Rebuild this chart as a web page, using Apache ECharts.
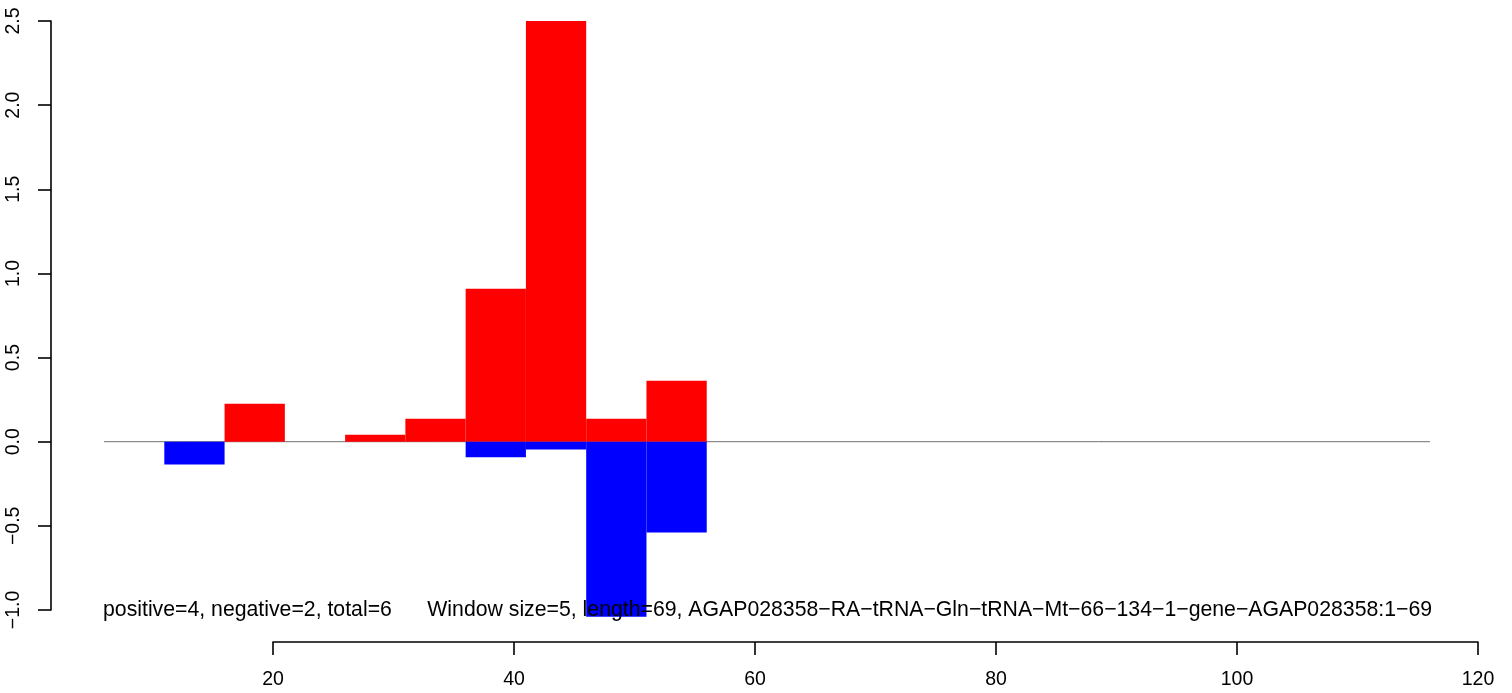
<!DOCTYPE html>
<html>
<head>
<meta charset="utf-8">
<script src="https://cdn.jsdelivr.net/npm/echarts@6/dist/echarts.min.js"></script>
<style>html,body{margin:0;padding:0;background:#fff;}#c{width:1512px;height:693px;}</style>
</head>
<body>
<div id="c"></div>
<script>
// ---- data ----
const windowStarts = [11, 16, 21, 26, 31, 36, 41, 46, 51];
const windowSize = 5;
const positiveValues = [0, 0.225, 0, 0.042, 0.136, 0.909, 2.5, 0.137, 0.362];
const negativeValues = [-0.135, 0, 0, 0, 0, -0.093, -0.047, -1.04, -0.54];
const baselineRange = [6, 116];
const xTicks = [20, 40, 60, 80, 100, 120];
const yTicks = [-1.0, -0.5, 0.0, 0.5, 1.0, 1.5, 2.0, 2.5];
const annotation = 'positive=4, negative=2, total=6      Window size=5, length=69, AGAP028358\u2212RA\u2212tRNA\u2212Gln\u2212tRNA\u2212Mt\u221266\u2212134\u22121\u2212gene\u2212AGAP028358:1\u221269';

const FONT = '"Liberation Sans", Arial, Helvetica, sans-serif';

function rows(vals) {
  return windowStarts.map((s, i) => [s, s + windowSize, vals[i]]).filter(r => r[2] !== 0);
}
function rectRenderer(color) {
  return function (params, api) {
    const p0 = api.coord([api.value(0), 0]);
    const p1 = api.coord([api.value(1), api.value(2)]);
    return {
      type: 'rect',
      shape: { x: p0[0], y: Math.min(p0[1], p1[1]), width: p1[0] - p0[0], height: Math.abs(p1[1] - p0[1]) },
      style: { fill: color }
    };
  };
}

const chart = echarts.init(document.getElementById('c'), null, { renderer: 'canvas' });
chart.setOption({
  animation: false,
  backgroundColor: '#ffffff',
  grid: [
    { left: 51, right: 29, top: 21, bottom: 83, containLabel: false },
    { left: 273, right: 34, top: 600, bottom: 51, containLabel: false }
  ],
  xAxis: [
    { type: 'value', gridIndex: 0, min: 1.6, max: 120.4, show: false },
    {
      type: 'value', gridIndex: 1, min: 20, max: 120, interval: 20, position: 'bottom',
      axisLine: { show: true, lineStyle: { color: '#000', width: 1.6 } },
      axisTick: { show: true, inside: false, length: 13, lineStyle: { color: '#000', width: 1.6 } },
      axisLabel: { show: true, margin: 28, color: '#000', fontSize: 19.5, fontFamily: FONT,
        customValues: xTicks },
      splitLine: { show: false }
    }
  ],
  yAxis: [
    {
      type: 'value', gridIndex: 0, min: -1, max: 2.5, interval: 0.5, position: 'left',
      axisLine: { show: true, lineStyle: { color: '#000', width: 1.6 } },
      axisTick: { show: true, inside: false, length: 13, lineStyle: { color: '#000', width: 1.6 } },
      axisLabel: { show: true, rotate: 90, margin: 27, color: '#000', fontSize: 19.5, fontFamily: FONT,
        customValues: yTicks,
        formatter: v => (v < 0 ? '\u2212' : '') + Math.abs(v).toFixed(1) },
      splitLine: { show: false }
    },
    { type: 'value', gridIndex: 1, show: false, min: 0, max: 1 }
  ],
  series: [
    {
      type: 'line', xAxisIndex: 0, yAxisIndex: 0, symbol: 'none', silent: true,
      data: [[baselineRange[0], 0], [baselineRange[1], 0]],
      lineStyle: { color: '#707070', width: 1 }, z: 1
    },
    {
      type: 'custom', xAxisIndex: 0, yAxisIndex: 0, renderItem: rectRenderer('#ff0000'),
      data: rows(positiveValues), clip: false, z: 2
    },
    {
      type: 'custom', xAxisIndex: 0, yAxisIndex: 0, renderItem: rectRenderer('#0000ff'),
      data: rows(negativeValues), clip: false, z: 2
    }
  ],
  graphic: [
    {
      type: 'text', x: 103, y: 610, z: 10,
      style: { text: annotation, fill: '#000', font: '21.25px ' + FONT, textVerticalAlign: 'middle', textAlign: 'left' }
    }
  ]
});
</script>
</body>
</html>
